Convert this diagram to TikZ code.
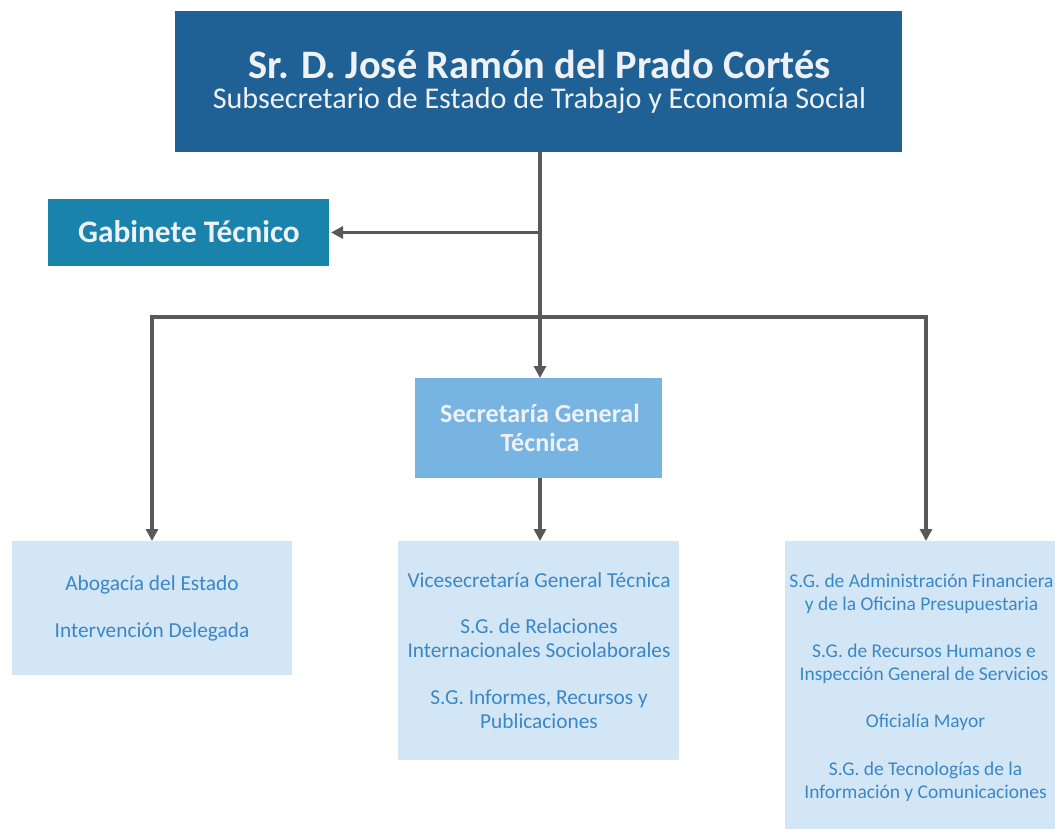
\documentclass[tikz,border=0pt]{standalone}
\usepackage{fontspec}
\setmainfont{Carlito}
\usetikzlibrary{arrows.meta}
\definecolor{topblue}{HTML}{1F6194}
\definecolor{gabblue}{HTML}{1A83AC}
\definecolor{sgtblue}{HTML}{77B4E2}
\definecolor{lightbox}{HTML}{D3E6F6}
\definecolor{boxtext}{HTML}{3A87C6}
\definecolor{conn}{HTML}{595959}
\definecolor{whitetext}{HTML}{EEF1F5}
\tikzset{
  box/.style={draw=none, inner sep=0pt, outer sep=0pt},
  txt/.style={inner sep=0pt, align=center},
  subtxt/.style={txt, text=boxtext, font=\fontsize{16}{18}\selectfont},
  rsubtxt/.style={txt, text=boxtext, font=\fontsize{14.6}{17.25}\selectfont},
  conline/.style={draw=conn, line width=2.4pt},
  conarrow/.style={conline, -{Triangle[length=9pt,width=9pt]}},
}
\begin{document}
\begin{tikzpicture}[x=0.75pt,y=-0.75pt]
\useasboundingbox (0,0) rectangle (1055,828);
\clip (0,0) rectangle (1055,828);
% boxes
\node[box, fill=topblue, minimum width=727*0.75pt, minimum height=141*0.75pt] (top) at (538.5,81.5) {};
\node[box, fill=gabblue, minimum width=281*0.75pt, minimum height=67*0.75pt] (gab) at (188.5,232.5) {};
\node[box, fill=sgtblue, minimum width=247*0.75pt, minimum height=100*0.75pt] (sgt) at (538.5,428) {};
\node[box, fill=lightbox, minimum width=280*0.75pt, minimum height=134*0.75pt] (left) at (152,608) {};
\node[box, fill=lightbox, minimum width=281*0.75pt, minimum height=219*0.75pt] (mid) at (538.5,650.5) {};
\node[box, fill=lightbox, minimum width=281*0.75pt, minimum height=288*0.75pt] (right) at (925.5,685) {};
% texts
\node[txt, text=whitetext, font=\bfseries\fontsize{30.3}{34}\selectfont] (t1) at (539.5,64) {Sr. D. José Ramón del Prado Cortés};
\node[txt, text=whitetext, font=\fontsize{22.6}{26}\selectfont] (t2) at (539.5,101) {Subsecretario de Estado de Trabajo y Economía Social};
\node[txt, text=whitetext, font=\bfseries\fontsize{23.5}{27}\selectfont] (tg) at (189,232) {Gabinete Técnico};
\node[txt, text=whitetext, font=\bfseries\fontsize{19.6}{21.75}\selectfont] (ts) at (540,428) {Secretaría General\\Técnica};
\node[subtxt] (l1) at (152,585) {Abogacía del Estado};
\node[subtxt] (l2) at (152,632) {Intervención Delegada};
\node[subtxt] (m1) at (539,580) {Vicesecretaría General Técnica};
\node[subtxt] (m2) at (539,638) {S.G. de Relaciones\\Internacionales Sociolaborales};
\node[subtxt] (m3) at (539,709) {S.G. Informes, Recursos y\\Publicaciones};
\node[rsubtxt] (r1) at (921.5,594) {S.G. de Administración Financiera\\y de la Oficina Presupuestaria};
\node[rsubtxt] (r2) at (924,664) {S.G. de Recursos Humanos e\\Inspección General de Servicios};
\node[rsubtxt] (r3) at (925.5,722) {Oficialía Mayor};
\node[rsubtxt] (r4) at (925.5,782) {S.G. de Tecnologías de la\\Información y Comunicaciones};
% connectors
\coordinate (stem) at (540,152);
\coordinate (barL) at (152,317);
\coordinate (barR) at (926,317);
\draw[conarrow] (stem) -- (stem |- sgt.north);
\draw[conarrow] (stem |- gab.east) -- ([xshift=1.5pt]gab.east);
\draw[conline] ([xshift=-1.2pt]barL) -- ([xshift=1.2pt]barR);
\draw[conarrow] (barL) -- (left.north -| barL);
\draw[conarrow] (barR) -- (right.north -| barR);
\draw[conarrow] (sgt.south -| stem) -- (mid.north -| stem);
\end{tikzpicture}
\end{document}
